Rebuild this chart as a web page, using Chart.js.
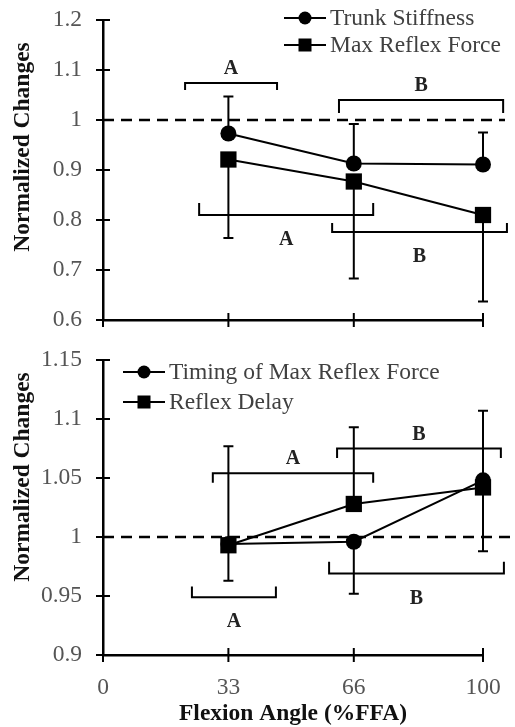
<!DOCTYPE html>
<html>
<head>
<meta charset="utf-8">
<script src="https://cdn.jsdelivr.net/npm/chart.js@4.4.1/dist/chart.umd.min.js"></script>
<style>
  body { margin: 0; background: #fff; }
  #wrap { position: relative; width: 515px; height: 727px; }
  canvas { position: absolute; left: 0; }
</style>
</head>
<body>
<div id="wrap">
  <canvas id="topChart" width="515" height="340" style="top:0"></canvas>
  <canvas id="bottomChart" width="515" height="387" style="top:340px"></canvas>
</div>
<script>
// flexion angles (%FFA)
const angleTicks = [0, 33, 66, 100]
const angles = [33, 66, 100]

// top panel
const trunkStiffness = [0.973, 0.913, 0.911]
const trunkStiffnessErr = [0.074, 0.079, 0.064]
const maxReflexForce = [0.921, 0.877, 0.810]
const maxReflexForceErr = [0.157, 0.194, 0.173]

// bottom panel
const timingMaxForce = [0.994, 0.996, 1.048]
const timingMaxForceErr = [0.031, 0.044, 0.060]
const reflexDelay = [0.993, 1.028, 1.042]
const reflexDelayErr = [0.084, 0.065, 0.065]

// significance brackets: [from, to, level, tip level, letter]
const topBrackets = [
  [21.6, 45.8, 1.074, 1.060, 'A'],
  [62.1, 105.3, 1.040, 1.014, 'B'],
  [25.3, 71.1, 0.810, 0.834, 'A'],
  [60.3, 106.3, 0.776, 0.794, 'B']
]
const bottomBrackets = [
  [28.9, 71.1, 1.054, 1.046, 'A'],
  [61.6, 104.7, 1.075, 1.067, 'B'],
  [23.4, 45.5, 0.949, 0.958, 'A'],
  [59.5, 105.5, 0.969, 0.979, 'B']
]

const serif = "'Liberation Serif', 'Times New Roman', serif"
Chart.defaults.font.family = serif
Chart.defaults.font.size = 23.5
Chart.defaults.color = '#555'

function pts(vals) {
  return vals.map((v, i) => ({ x: angles[i], y: v }))
}

function makeDataset(label, vals, errs, dir, style) {
  return {
    label: label,
    data: pts(vals),
    errors: errs,
    errorDir: dir,
    borderColor: '#000',
    backgroundColor: '#000',
    borderWidth: 2,
    pointStyle: style,
    pointRadius: style == 'rect' ? 11.5 : 8,
    pointHoverRadius: style == 'rect' ? 11.5 : 8,
    pointBorderWidth: 0,
    tension: 0,
    clip: false
  }
}

const extras = {
  id: 'extras',
  beforeDatasetsDraw(chart, args, opts) {
    const ctx = chart.ctx
    const x = chart.scales.x
    const y = chart.scales.y
    ctx.save()
    ctx.strokeStyle = '#000'
    // dashed reference line at 1
    ctx.lineWidth = 2.5
    ctx.setLineDash([11, 7])
    let y1 = y.getPixelForValue(1)
    ctx.beginPath()
    ctx.moveTo(x.left, y1)
    ctx.lineTo(opts.refEnd, y1)
    ctx.stroke()
    ctx.setLineDash([])

    // brackets
    ctx.lineWidth = 2
    ctx.fillStyle = '#222'
    ctx.font = "bold 20px " + serif
    ctx.textAlign = 'center'
    ctx.textBaseline = 'middle'
    opts.brackets.forEach((b) => {
      let x0 = x.getPixelForValue(b[0])
      let x1 = x.getPixelForValue(b[1])
      let yl = y.getPixelForValue(b[2])
      let yt = y.getPixelForValue(b[3])
      ctx.beginPath()
      ctx.moveTo(x0, yt)
      ctx.lineTo(x0, yl)
      ctx.lineTo(x1, yl)
      ctx.lineTo(x1, yt)
      ctx.stroke()
      let up = yt > yl
      ctx.fillText(b[4], (x0 + x1) / 2, up ? yl - 14 : yl + 25)
    })

    // error bars
    chart.data.datasets.forEach((ds) => {
      ds.data.forEach((p, i) => {
        let px = x.getPixelForValue(p.x)
        let py = y.getPixelForValue(p.y)
        let pe = y.getPixelForValue(p.y + ds.errorDir * ds.errors[i])
        ctx.beginPath()
        ctx.moveTo(px, py)
        ctx.lineTo(px, pe)
        ctx.moveTo(px - 5, pe)
        ctx.lineTo(px + 5, pe)
        ctx.stroke()
      })
    })
    ctx.restore()
  },
  afterDraw(chart, args, opts) {
    const ctx = chart.ctx
    const x = chart.scales.x
    const y = chart.scales.y
    ctx.save()
    ctx.strokeStyle = '#000'
    ctx.lineWidth = 2
    // cross tick marks
    y.ticks.forEach((t) => {
      let py = y.getPixelForValue(t.value)
      ctx.beginPath()
      ctx.moveTo(x.left - 7, py)
      ctx.lineTo(x.left + 7, py)
      ctx.stroke()
    })
    x.ticks.forEach((t) => {
      let px = x.getPixelForValue(t.value)
      ctx.beginPath()
      ctx.moveTo(px, y.bottom - 7)
      ctx.lineTo(px, y.bottom + 7)
      ctx.stroke()
    })

    // y title
    ctx.save()
    ctx.translate(opts.titleX, opts.titleY)
    ctx.rotate(-Math.PI / 2)
    ctx.fillStyle = '#111'
    ctx.font = "bold 23.5px " + serif
    ctx.textAlign = 'center'
    ctx.textBaseline = 'middle'
    ctx.fillText('Normalized Changes', 0, 0)
    ctx.restore()

    // legend
    let lg = opts.legend
    chart.data.datasets.forEach((ds, i) => {
      let ly = lg.y + i * lg.dy
      ctx.beginPath()
      ctx.moveTo(lg.x - 21, ly)
      ctx.lineTo(lg.x + 21, ly)
      ctx.stroke()
      ctx.fillStyle = '#000'
      if (ds.pointStyle == 'rect') {
        ctx.fillRect(lg.x - 6.5, ly - 6.5, 13, 13)
      } else {
        ctx.beginPath()
        ctx.arc(lg.x, ly, 6.5, 0, Math.PI * 2)
        ctx.fill()
      }
      ctx.fillStyle = '#404040'
      ctx.font = "23.5px " + serif
      ctx.textAlign = 'left'
      ctx.textBaseline = 'middle'
      ctx.fillText(ds.label, lg.x + 25, ly + 1)
    })
    ctx.restore()
  }
}

function makeOptions(yMin, yMax, step, showX, xHeight, extraOpts) {
  return {
    responsive: false,
    animation: false,
    layout: { padding: { top: 20, right: 32, bottom: 0, left: 0 } },
    plugins: {
      legend: { display: false },
      tooltip: { enabled: false },
      extras: extraOpts
    },
    scales: {
      x: {
        type: 'linear',
        min: 0,
        max: 100,
        afterBuildTicks: (s) => { s.ticks = angleTicks.map((v) => ({ value: v })) },
        afterFit: (s) => {
          s.height = xHeight
          s.paddingLeft = 0
          s.paddingRight = 0
        },
        grid: { display: false, drawTicks: false },
        border: { display: true, color: '#000', width: 2.5 },
        ticks: { display: showX, padding: 19, color: '#555' },
        title: {
          display: showX,
          text: 'Flexion Angle (%FFA)',
          color: '#111',
          font: { size: 23.5, weight: 'bold' },
          padding: { top: 0, bottom: -1 }
        }
      },
      y: {
        min: yMin,
        max: yMax,
        afterFit: (s) => {
          s.width = 103
          s.paddingTop = 0
          s.paddingBottom = 0
        },
        grid: { display: false, drawTicks: false },
        border: { display: true, color: '#000', width: 2.5 },
        ticks: {
          stepSize: step,
          padding: 21,
          color: '#555',
          callback: (v) => String(Math.round(v * 100) / 100)
        }
      }
    }
  }
}

new Chart(document.getElementById('topChart'), {
  type: 'line',
  data: {
    datasets: [
      makeDataset('Trunk Stiffness', trunkStiffness, trunkStiffnessErr, 1, 'circle'),
      makeDataset('Max Reflex Force', maxReflexForce, maxReflexForceErr, -1, 'rect')
    ]
  },
  options: makeOptions(0.6, 1.2, 0.1, false, 20, {
    refEnd: 505,
    brackets: topBrackets,
    titleX: 23,
    titleY: 147,
    legend: { x: 305, y: 18, dy: 27 }
  }),
  plugins: [extras]
})

new Chart(document.getElementById('bottomChart'), {
  type: 'line',
  data: {
    datasets: [
      makeDataset('Timing of Max Reflex Force', timingMaxForce, timingMaxForceErr, -1, 'circle'),
      makeDataset('Reflex Delay', reflexDelay, reflexDelayErr, 1, 'rect')
    ]
  },
  options: makeOptions(0.9, 1.15, 0.05, true, 72, {
    refEnd: 515,
    brackets: bottomBrackets,
    titleX: 23,
    titleY: 137,
    legend: { x: 144, y: 32, dy: 30 }
  }),
  plugins: [extras]
})
</script>
</body>
</html>
